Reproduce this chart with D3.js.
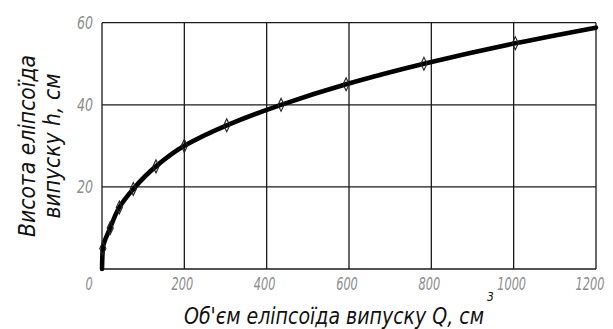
<!DOCTYPE html>
<html><head><meta charset="utf-8">
<script src="https://cdn.jsdelivr.net/npm/d3@7/dist/d3.min.js"></script>
<style>
html,body{margin:0;padding:0;background:#fff;}
text{font-family:"DejaVu Sans Condensed","DejaVu Sans",sans-serif;font-style:italic;font-weight:normal;}
</style></head>
<body><svg id="c" width="613" height="329"></svg>
<script>
const volumeQ = [0, 2, 20, 42, 76, 131, 200, 303, 435, 593, 782, 1004, 1200];
const heightH = [0, 5, 10, 15, 19.5, 25, 30, 35, 40, 45, 50, 55, 58.8];
const markerIdx = [1,2,3,4,5,6,7,8,9,10,11];
const xTicks = [0, 200, 400, 600, 800, 1000, 1200];
const yTicks = [20, 40, 60];
const xTitle = "Об'єм еліпсоїда випуску Q, см";
const xTitleSup = "3";
const yTitle1 = "Висота еліпсоїда";
const yTitle2 = "випуску h, см";

const svg = d3.select("#c");
const L=102, R=596, T=22.7, B=269;
const x = d3.scaleLinear().domain([0,1200]).range([L,R]);
const y = d3.scaleLinear().domain([0,60]).range([B,T]);

const g = svg.append("g");
// grid
g.selectAll(".vx").data(xTicks).enter().append("line")
 .attr("x1",d=>x(d)).attr("x2",d=>x(d)).attr("y1",T).attr("y2",B)
 .attr("stroke","#1a1a1a").attr("stroke-width",1.3);
g.selectAll(".hy").data([0].concat(yTicks)).enter().append("line")
 .attr("y1",d=>y(d)).attr("y2",d=>y(d)).attr("x1",L).attr("x2",R)
 .attr("stroke","#1a1a1a").attr("stroke-width",1.3);

// tick labels
g.selectAll(".xl").data(xTicks).enter().append("text")
 .attr("x",d=> d===0 ? x(d)-13 : (d===1200 ? x(d)-6 : x(d)-2)).attr("y",290)
 .attr("text-anchor","middle").attr("font-size",18).attr("fill","#8c8c8c")
 .attr("textLength",d=>String(d).length*7.2).attr("lengthAdjust","spacingAndGlyphs")
 .text(d=>d);
g.selectAll(".yl").data(yTicks).enter().append("text")
 .attr("x",93).attr("y",d=>y(d)+6)
 .attr("text-anchor","end").attr("font-size",18).attr("fill","#8c8c8c")
 .attr("textLength",16).attr("lengthAdjust","spacingAndGlyphs")
 .text(d=>d);

// curve
const pts = volumeQ.map((q,i)=>[q,heightH[i]]);
const line = d3.line().x(d=>x(d[0])).y(d=>y(d[1])).curve(d3.curveMonotoneY);
g.append("path").datum(pts).attr("d",line).attr("fill","none")
 .attr("stroke","#000").attr("stroke-width",4.6).attr("stroke-linecap","round");

g.selectAll(".m").data(markerIdx.map(i=>pts[i])).enter().append("path")
 .attr("transform",d=>`translate(${x(d[0])},${y(d[1])}) scale(0.9,1.1)`)
 .attr("d",d3.symbol().type(d3.symbolDiamond).size(40))
 .attr("fill","none").attr("stroke","#222").attr("stroke-width",1.2);

// x title
const xt = svg.append("text").attr("x",184).attr("y",324).attr("font-size",23).attr("fill","#111");
xt.append("tspan").attr("textLength",300).attr("lengthAdjust","spacingAndGlyphs").text(xTitle);
xt.append("tspan").attr("dx",3).attr("dy",-23).attr("font-size",12).text(xTitleSup);

// y title
svg.append("text").attr("transform","translate(35,146) rotate(-90)")
 .attr("text-anchor","middle").attr("font-size",23).attr("fill","#111")
 .attr("textLength",182).attr("lengthAdjust","spacingAndGlyphs").text(yTitle1);
svg.append("text").attr("transform","translate(60,146) rotate(-90)")
 .attr("text-anchor","middle").attr("font-size",23).attr("fill","#111")
 .attr("textLength",145).attr("lengthAdjust","spacingAndGlyphs").text(yTitle2);
</script></body></html>
